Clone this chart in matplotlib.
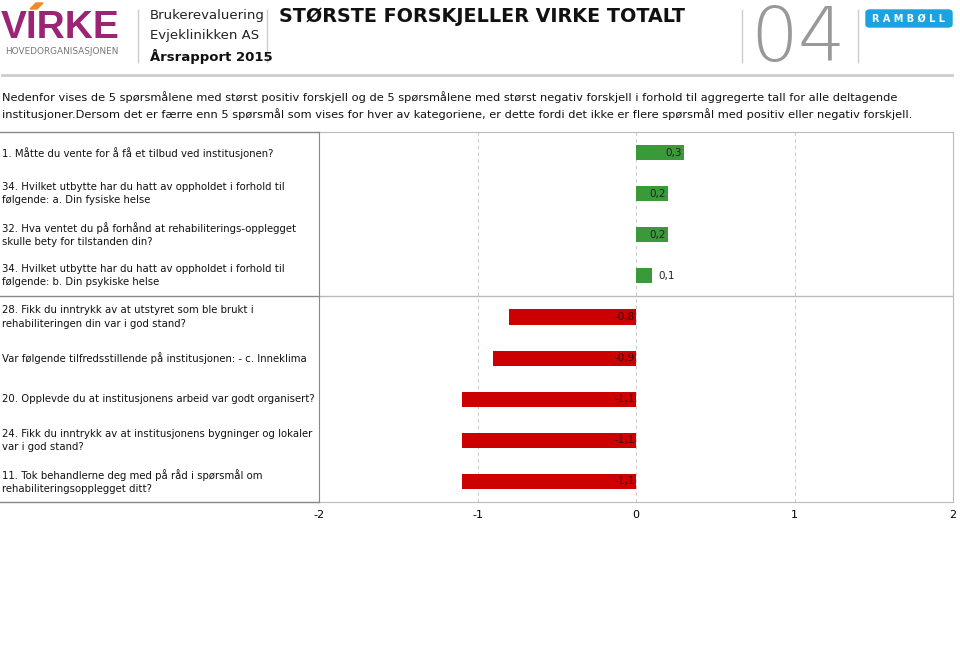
import numpy as np
import matplotlib
matplotlib.use('Agg')
import matplotlib.pyplot as plt
import matplotlib.transforms as mtransforms
from matplotlib.patches import FancyBboxPatch, Polygon
from matplotlib.lines import Line2D

# data
questions = [
    "1. Måtte du vente for å få et tilbud ved institusjonen?",
    "34. Hvilket utbytte har du hatt av oppholdet i forhold til\nfølgende: a. Din fysiske helse",
    "32. Hva ventet du på forhånd at rehabiliterings-opplegget\nskulle bety for tilstanden din?",
    "34. Hvilket utbytte har du hatt av oppholdet i forhold til\nfølgende: b. Din psykiske helse",
    "28. Fikk du inntrykk av at utstyret som ble brukt i\nrehabiliteringen din var i god stand?",
    "Var følgende tilfredsstillende på institusjonen: - c. Inneklima",
    "20. Opplevde du at institusjonens arbeid var godt organisert?",
    "24. Fikk du inntrykk av at institusjonens bygninger og lokaler\nvar i god stand?",
    "11. Tok behandlerne deg med på råd i spørsmål om\nrehabiliteringsopplegget ditt?",
]
diffs = [0.3, 0.2, 0.2, 0.1, -0.8, -0.9, -1.1, -1.1, -1.1]
xticks = [-2, -1, 0, 1, 2]
n_positive = 4

green = '#3a9a3a'
red = '#cc0000'

W, H = 960, 659
fig = plt.figure(figsize=(W / 100, H / 100), dpi=100)

def fx(px):
    return px / W

def fy(py):
    return 1 - py / H

def vline(px, c='#cccccc'):
    fig.lines.append(Line2D([fx(px), fx(px)], [fy(10), fy(62)], transform=fig.transFigure,
                            color=c, lw=1))

# ---- header ----
fig.text(fx(1), fy(27.5), "VIRKE", fontsize=28, fontweight='bold', color='#9c2474',
         va='center', ha='left', family=['Liberation Sans', 'DejaVu Sans'])
fig.patches.append(Polygon([[fx(30), fy(9)], [fx(36), fy(3)], [fx(43), fy(3)], [fx(37), fy(9)]],
                           closed=True, transform=fig.transFigure, color='#f08a24'))
fig.text(fx(5), fy(51), "HOVEDORGANISASJONEN", fontsize=6.4, color='#777777', va='center', ha='left')
vline(138)
fig.text(fx(150), fy(15), "Brukerevaluering", fontsize=9.5, color='#222222', va='center')
fig.text(fx(150), fy(36), "Evjeklinikken AS", fontsize=9.5, color='#222222', va='center')
fig.text(fx(150), fy(57), "Årsrapport 2015", fontsize=9.5, fontweight='bold', color='#111111', va='center')
vline(267)
fig.text(fx(279), fy(17), "STØRSTE FORSKJELLER VIRKE TOTALT", fontsize=13.8, fontweight='bold',
         color='#111111', va='center', ha='left')
vline(742)
fig.text(fx(798), fy(40), "04", fontsize=54, color='#999999', va='center', ha='center',
         fontweight='light')
vline(858)
fig.patches.append(FancyBboxPatch((fx(866), fy(27)), fx(86), 17 / H,
                                  boxstyle='round,pad=0,rounding_size=0.004',
                                  transform=fig.transFigure, color='#1aa3e0'))
fig.text(fx(909), fy(18.5), "R A M B Ø L L", fontsize=7, fontweight='bold', color='white',
         va='center', ha='center')
fig.lines.append(Line2D([fx(2), fx(952)], [fy(75), fy(75)], transform=fig.transFigure,
                        color='#cccccc', lw=2))

# ---- intro ----
fig.text(fx(2), fy(97), "Nedenfor vises de 5 spørsmålene med størst positiv forskjell og de 5 spørsmålene "
         "med størst negativ forskjell i forhold til aggregerte tall for alle deltagende",
         fontsize=8.2, color='#111111', va='center', ha='left')
fig.text(fx(2), fy(114), "institusjoner.Dersom det er færre enn 5 spørsmål som vises for hver av kategoriene, "
         "er dette fordi det ikke er flere spørsmål med positiv eller negativ forskjell.",
         fontsize=8.2, color='#111111', va='center', ha='left')

# ---- chart ----
top, bottom, left, right = 132, 502, 319, 953
ax = fig.add_axes([fx(left), fy(bottom), fx(right) - fx(left), (bottom - top) / H])

ypos = np.arange(len(diffs))
colors = [green if v > 0 else red for v in diffs]
ax.barh(ypos, diffs, height=0.37, color=colors, zorder=3)

ax.set_xlim(-2, 2)
ax.set_ylim(len(diffs) - 0.5, -0.5)
ax.set_xticks(xticks)
ax.set_xticklabels([str(t) for t in xticks], fontsize=8)
ax.tick_params(axis='x', length=0, pad=6)
ax.set_yticks([])
for t in [-1, 0, 1]:
    ax.axvline(t, color='#cccccc', lw=0.8, ls=(0, (3, 3)), zorder=1)
ax.axhline(n_positive - 0.5, color='#bbbbbb', lw=1, zorder=2)

for s in ['top', 'bottom', 'right']:
    ax.spines[s].set_color('#bbbbbb')
ax.spines['left'].set_color('#888888')

# value labels
for y, v in zip(ypos, diffs):
    lbl = ("%.1f" % v).replace('.', ',')
    if v > 0:
        if v >= 0.15:
            ax.text(v - 0.01, y, lbl, ha='right', va='center', fontsize=7.5, color='#222222', zorder=4)
        else:
            ax.text(v + 0.04, y, lbl, ha='left', va='center', fontsize=7.5, color='#222222', zorder=4)
    else:
        ax.text(-0.01, y, lbl, ha='right', va='center', fontsize=7.5, color='#330000', zorder=4)

# question labels in the left column
trans = mtransforms.blended_transform_factory(fig.transFigure, ax.transData)
for y, q in zip(ypos, questions):
    ax.text(fx(2), y, q, transform=trans, ha='left', va='center', fontsize=7.3,
            color='#111111', linespacing=1.4, clip_on=False)

# table lines in the left column
for py in [top, 296, bottom]:
    fig.lines.append(Line2D([0, fx(left)], [fy(py), fy(py)], transform=fig.transFigure,
                            color='#888888', lw=1))

fig.savefig('out.png', dpi=100)
